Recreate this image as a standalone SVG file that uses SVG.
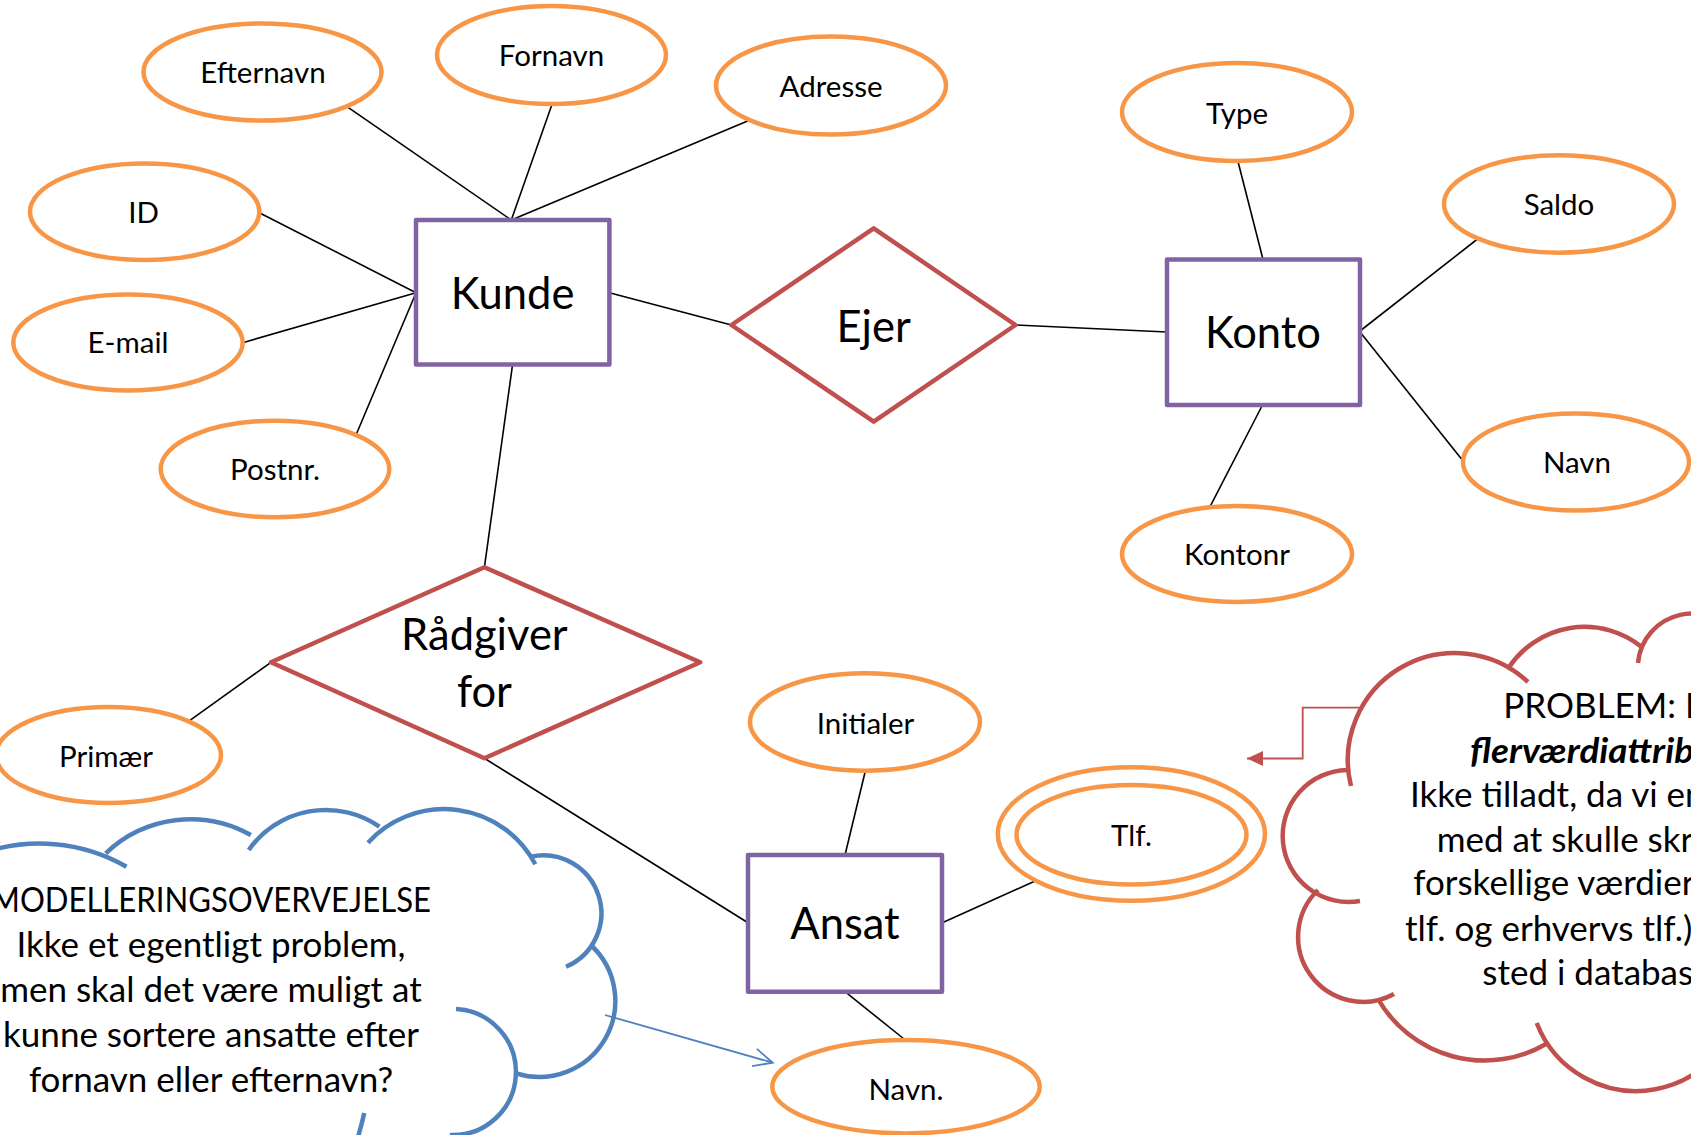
<svg xmlns="http://www.w3.org/2000/svg" width="1691" height="1135" viewBox="0 0 1691 1135">
<defs>
<style>
.attr{fill:#fff;stroke:#F79646;stroke-width:4.5}
.ent{fill:#fff;stroke:#8064A2;stroke-width:4.5;stroke-linejoin:round}
.rel{fill:#fff;stroke:#C0504D;stroke-width:4.5;stroke-linejoin:round}
.conn{stroke:#000;stroke-width:1.6;fill:none}
.t{font-family:Lato,"Liberation Sans",sans-serif;fill:#000;text-anchor:middle}
.ta{font-size:29.5px}
.te{font-size:43.5px}
.tc{font-size:35px}
.ts{text-anchor:start}
.cr{fill:none;stroke:#C0504D;stroke-width:4.5}
.cb{fill:none;stroke:#4F81BD;stroke-width:4.5}
</style>
<marker id="arrBlue" markerUnits="userSpaceOnUse" viewBox="-22 -12 24 24" markerWidth="24" markerHeight="24" refX="0" refY="0" orient="auto">
<path d="M-19,-9 L0,0 L-19,9" fill="none" stroke="#4F81BD" stroke-width="1.8"/>
</marker>
<marker id="arrRed" markerUnits="userSpaceOnUse" viewBox="-18 -10 20 20" markerWidth="20" markerHeight="20" refX="0" refY="0" orient="auto">
<path d="M-16,-7.5 L0,0 L-16,7.5 Z" fill="#C0504D"/>
</marker>
</defs>
<rect width="1691" height="1135" fill="#fff"/>

<g id="connectors">
<line class="conn" x1="347" y1="106.7" x2="511.3" y2="220"/>
<line class="conn" x1="552.4" y1="103.3" x2="511.3" y2="220"/>
<line class="conn" x1="750" y1="120" x2="511.3" y2="220"/>
<line class="conn" x1="259.3" y1="212.7" x2="416" y2="292.7"/>
<line class="conn" x1="242.7" y1="342.7" x2="416" y2="292.7"/>
<line class="conn" x1="356" y1="435" x2="416" y2="292.7"/>
<line class="conn" x1="609.4" y1="292.7" x2="731.4" y2="325"/>
<line class="conn" x1="1015.5" y1="325" x2="1166.7" y2="332"/>
<line class="conn" x1="1237.6" y1="160" x2="1263" y2="259.4"/>
<line class="conn" x1="1478.8" y1="238" x2="1360" y2="331"/>
<line class="conn" x1="1360" y1="332" x2="1463.7" y2="461.7"/>
<line class="conn" x1="1263" y1="404" x2="1208" y2="510.6"/>
<line class="conn" x1="512.6" y1="364.3" x2="484.4" y2="567.3"/>
<line class="conn" x1="188.2" y1="721.7" x2="270.9" y2="662.3"/>
<line class="conn" x1="484.4" y1="758.3" x2="748" y2="922.7"/>
<line class="conn" x1="865.4" y1="770.7" x2="845" y2="855"/>
<line class="conn" x1="942.3" y1="922.7" x2="1037.4" y2="880"/>
<line class="conn" x1="845" y1="991.7" x2="905.3" y2="1040"/>
<line x1="605" y1="1015" x2="772.7" y2="1062.7" stroke="#4F81BD" stroke-width="1.8" marker-end="url(#arrBlue)"/>
<polyline points="1359,707.6 1302.7,707.6 1302.7,758.5 1247,758.5" fill="none" stroke="#C0504D" stroke-width="1.8" marker-end="url(#arrRed)"/>
</g>

<g id="efternavn"><ellipse class="attr" cx="262.5" cy="72" rx="119" ry="48.5"/><text class="t ta" x="263" y="83.3">Efternavn</text></g>
<g id="fornavn"><ellipse class="attr" cx="551.5" cy="55" rx="114.5" ry="49"/><text class="t ta" x="551.5" y="65.7">Fornavn</text></g>
<g id="adresse"><ellipse class="attr" cx="831" cy="85.5" rx="115" ry="49"/><text class="t ta" x="831" y="96.7">Adresse</text></g>
<g id="id"><ellipse class="attr" cx="144.7" cy="211.7" rx="114.7" ry="48.3"/><text class="t ta" x="143.5" y="222.7">ID</text></g>
<g id="email"><ellipse class="attr" cx="128" cy="342.5" rx="114.7" ry="48"/><text class="t ta" x="128" y="353.3">E-mail</text></g>
<g id="postnr"><ellipse class="attr" cx="275" cy="469" rx="114.3" ry="48.3"/><text class="t ta" x="275" y="480">Postnr.</text></g>

<g id="kunde"><rect class="ent" x="416" y="220" width="193.4" height="144.5"/><text class="t te" x="512.6" y="309">Kunde</text></g>
<g id="ejer"><polygon class="rel" points="731.4,325 873.7,228.3 1015.5,325 873.7,421.7"/><text class="t te" x="873.7" y="341.7">Ejer</text></g>
<g id="konto"><rect class="ent" x="1167" y="259.5" width="193" height="145.5"/><text class="t te" x="1263" y="347.8">Konto</text></g>

<g id="type"><ellipse class="attr" cx="1237" cy="112" rx="115" ry="49"/><text class="t ta" x="1237" y="124.3">Type</text></g>
<g id="saldo"><ellipse class="attr" cx="1559" cy="204" rx="115" ry="48.7"/><text class="t ta" x="1559" y="214.6">Saldo</text></g>
<g id="navn-konto"><ellipse class="attr" cx="1576" cy="462" rx="113" ry="48.5"/><text class="t ta" x="1577" y="472.9">Navn</text></g>
<g id="kontonr"><ellipse class="attr" cx="1237" cy="554" rx="115" ry="48"/><text class="t ta" x="1237" y="564.6">Kontonr</text></g>

<g id="raadgiver"><polygon class="rel" points="270.9,662.3 484.4,567.3 700.2,662.3 484.4,758.3"/><text class="t te" x="484.4" y="650">Rådgiver</text><text class="t te" x="484.4" y="706.7">for</text></g>
<g id="primaer"><ellipse class="attr" cx="108.5" cy="755" rx="112.5" ry="48"/><text class="t ta" x="106" y="766.7">Primær</text></g>

<g id="initialer"><ellipse class="attr" cx="865" cy="722" rx="115" ry="48.7"/><text class="t ta" x="865.5" y="734">Initialer</text></g>
<g id="ansat"><rect class="ent" x="748" y="855" width="194" height="136.7"/><text class="t te" x="845" y="939.3">Ansat</text></g>
<g id="tlf"><ellipse class="attr" cx="1131.4" cy="834" rx="133.6" ry="66.7"/><ellipse class="attr" cx="1131.5" cy="834.7" rx="115" ry="49.7"/><text class="t ta" x="1131.5" y="846">Tlf.</text></g>
<g id="navn-ansat"><ellipse class="attr" cx="906" cy="1086.7" rx="133.7" ry="46.7"/><text class="t ta" x="906" y="1100">Navn.</text></g>

<g id="note-blue">
<path class="cb" d="M-20,854 A175,175 0 0 1 126.5,866.7"/>
<path class="cb" d="M105.7,853.3 A123,123 0 0 1 250.8,835"/>
<path class="cb" d="M248.8,850 A94,94 0 0 1 379.4,826.7"/>
<path class="cb" d="M368,842.7 A103,103 0 0 1 535.3,864.3"/>
<path class="cb" d="M530.7,856.7 A58,58 0 0 1 566,966.7"/>
<path class="cb" d="M590.8,945 A76,76 0 0 1 516.2,1073.3"/>
<path class="cb" d="M456,1009 A63,63 0 0 1 449.8,1135"/>
<path class="cb" d="M364.3,1113 Q361.5,1125 358,1137"/>
<text class="t tc" x="211" y="911.5" textLength="440" lengthAdjust="spacingAndGlyphs">MODELLERINGSOVERVEJELSE</text>
<text class="t tc" x="211" y="956.5">Ikke et egentligt problem,</text>
<text class="t tc" x="211" y="1001.5">men skal det være muligt at</text>
<text class="t tc" x="211" y="1046.5">kunne sortere ansatte efter</text>
<text class="t tc" x="211" y="1091.5">fornavn eller efternavn?</text>
</g>

<g id="note-red">
<path class="cr" d="M1351,786 A107,107 0 0 1 1528,682"/>
<path class="cr" d="M1508.3,668.3 A91,91 0 0 1 1641.7,647"/>
<path class="cr" d="M1638,663 A54,54 0 0 1 1738.8,641"/>
<path class="cr" d="M1347,770 A66,66 0 1 0 1360,901"/>
<path class="cr" d="M1318,890 A65,65 0 0 0 1394,994"/>
<path class="cr" d="M1378,999 A123,123 0 0 0 1547,1043.5"/>
<path class="cr" d="M1536.7,1023 A106.5,106.5 0 0 0 1742.5,985"/>
<text class="t tc ts" x="1503.3" y="717.5">PROBLEM: E</text>
<text class="t tc ts" x="1470" y="763" font-weight="bold" font-style="italic" textLength="224" lengthAdjust="spacingAndGlyphs">flerværdiattrib</text>
<text class="t tc ts" x="1410" y="806.5">Ikke tilladt, da vi en</text>
<text class="t tc ts" x="1436.7" y="852">med at skulle skr</text>
<text class="t tc ts" x="1413.3" y="895">forskellige værdier</text>
<text class="t tc ts" x="1405" y="940.5">tlf. og erhvervs tlf.)</text>
<text class="t tc ts" x="1482.3" y="985">sted i databas</text>
</g>
</svg>
